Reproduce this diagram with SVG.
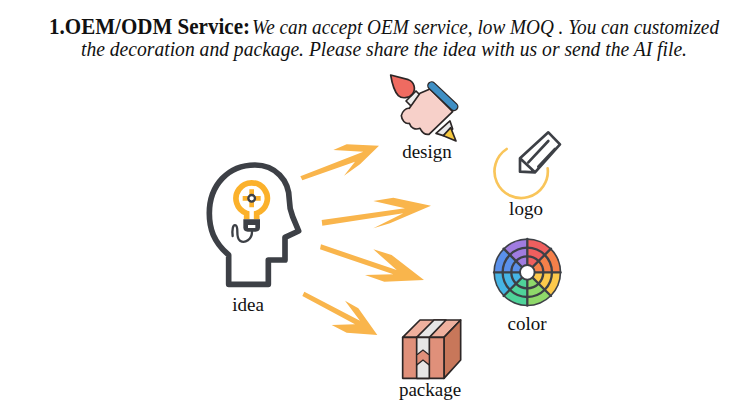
<svg xmlns="http://www.w3.org/2000/svg" width="750" height="400" viewBox="0 0 750 400">
<style>
text{font-family:"Liberation Serif","DejaVu Serif",serif;fill:#111}
.lab{font-size:19px;text-anchor:middle}
.t{font-size:20.5px;font-style:italic}
.k{fill:none;stroke:#3d4046;stroke-linecap:round;stroke-linejoin:round}
.o{stroke:#2c2626;stroke-width:5;stroke-linejoin:round}
.a{fill:#f9b54c}
</style>
<rect width="750" height="400" fill="#fff"/>
<g id="title">
<text x="49" y="34" font-size="23" font-weight="bold" textLength="201" lengthAdjust="spacingAndGlyphs">1.OEM/ODM Service:</text>
<text class="t" x="252" y="34" textLength="467" lengthAdjust="spacingAndGlyphs">We can accept OEM service, low MOQ . You can customized</text>
<text class="t" x="81" y="56" textLength="606" lengthAdjust="spacingAndGlyphs">the decoration and package. Please share the idea with us or send the AI file.</text>
</g>
<g id="connectors" transform="translate(295 135) scale(.33333)">
<polygon class="a" points="16,124 205,50 115,45 155,28 252,32 195,88 147,122 180,80 22,136"/>
<polygon class="a" points="80,255 330,220 235,198 295,188 408,212 285,265 235,280 325,235 82,272"/>
<polygon class="a" points="78,328 305,405 235,343 290,360 387,435 268,440 210,420 295,418 75,343"/>
<polygon class="a" points="28,470 195,557 150,497 190,520 247,600 155,593 110,570 180,568 22,483"/>
</g>
<g id="idea">
<g transform="translate(190 150) scale(.33333)">
<path class="k" stroke-width="17" d="M116 403V315C70 275 58 235 58 190C58 105 115 45 195 45C255 45 298 90 298 150C298 170 302 185 308 200L326 243L285 262V330H235V403Z"/>
<path d="M170 208V190A47 47 0 1 1 200 190V208" fill="none" stroke="#fbb12b" stroke-width="17"/>
<path d="M185 118V172M158 145H212" stroke="#fbb12b" stroke-width="14"/>
<circle cx="185" cy="145" r="10" fill="#fff" stroke="#3d4046" stroke-width="7"/>
<path d="M160 208H210V232Q210 245 197 245H173Q160 245 160 232Z" fill="#3d4046"/>
<rect x="174" y="225" width="22" height="9" fill="#fff"/>
<path class="k" stroke-width="7" d="M186 245C186 268 165 282 150 272C135 262 148 232 137 226C128 222 126 240 128 258"/>
</g>
<text class="lab" x="248" y="311">idea</text>
</g>
<g id="design">
<g transform="translate(380 65) scale(.33333)">
<path class="o" fill="#eee" d="M78 108L108 78L128 98L98 128Z"/>
<path class="o" fill="#ef6b61" d="M32 30L85 44C103 50 108 72 98 86C88 100 66 102 55 92C42 78 36 55 32 30Z"/>
<path class="o" fill="#e9e9ea" d="M168 205L210 168L218 192L190 212Z"/>
<path class="o" fill="#f6c93f" d="M190 212L212 188L228 228Z"/>
<path class="o" fill="#f7d0c9" d="M120 85L150 72L218 140L147 208C135 210 125 200 120 190C105 196 92 188 88 175C75 178 65 165 64 152C66 140 78 128 88 130Z"/>
<path d="M155 62L222 125" stroke="#2c2626" stroke-width="27" stroke-linecap="round"/>
<path d="M155 62L222 125" stroke="#3f8fc4" stroke-width="19" stroke-linecap="round"/>
</g>
<text class="lab" x="427" y="158">design</text>
</g>
<g id="logo">
<g transform="translate(380 65) scale(.33333)">
<path d="M380 252A80 80 0 1 0 503 310" fill="none" stroke="#f9c55a" stroke-width="8" stroke-linecap="round"/>
<path class="k" stroke="#333" stroke-width="8" d="M420 320V280L505 202L540 238L465 322ZM420 280L465 322M445 292L505 228M475 305L525 252"/>
</g>
<text class="lab" x="526" y="215">logo</text>
</g>
<g id="color">
<g transform="translate(527.3 272.3) scale(.33333)">
<circle r="102" fill="#3d4046"/>
<path fill="#ef5f5f" d="M0 0V-97A97 97 0 0 1 68.6 -68.6Z"/>
<path fill="#f5804a" d="M0 0L68.6 -68.6A97 97 0 0 1 97 0Z"/>
<path fill="#fcc94b" d="M0 0H97A97 97 0 0 1 68.6 68.6Z"/>
<path fill="#8fd86a" d="M0 0L68.6 68.6A97 97 0 0 1 0 97Z"/>
<path fill="#4fd39a" d="M0 0V97A97 97 0 0 1 -68.6 68.6Z"/>
<path fill="#46b5e5" d="M0 0L-68.6 68.6A97 97 0 0 1 -97 0Z"/>
<path fill="#5a90ea" d="M0 0H-97A97 97 0 0 1 -68.6 -68.6Z"/>
<path fill="#a07ce0" d="M0 0L-68.6 -68.6A97 97 0 0 1 0 -97Z"/>
<g class="k" stroke-width="7">
<circle r="48"/><circle r="74"/>
<path d="M0 -100V100M-100 0H100M-71 -71L71 71M-71 71L71 -71"/>
</g>
<circle r="22" fill="#fff" stroke="#3d4046" stroke-width="6"/>
</g>
<text class="lab" x="527" y="330">color</text>
</g>
<g id="package">
<g transform="translate(390 310) scale(.33333)">
<path class="o" fill="#eeb09e" d="M38 82L90 30H212L162 82Z"/>
<path class="o" fill="#c8775a" d="M162 82L212 30V150L162 205Z"/>
<path class="o" fill="#e0907a" d="M38 82H162V205H38Z"/>
<path class="o" fill="#e6e6e6" d="M80 82L132 30H168L118 82Z"/>
<path class="o" fill="#e6e6e6" d="M80 82H118V205H80Z"/>
<path fill="#e0907a" stroke="#2c2626" stroke-width="4" d="M80 135L99 120L118 135V165L99 150L80 165Z"/>
</g>
<text class="lab" x="430" y="396">package</text>
</g>
</svg>
